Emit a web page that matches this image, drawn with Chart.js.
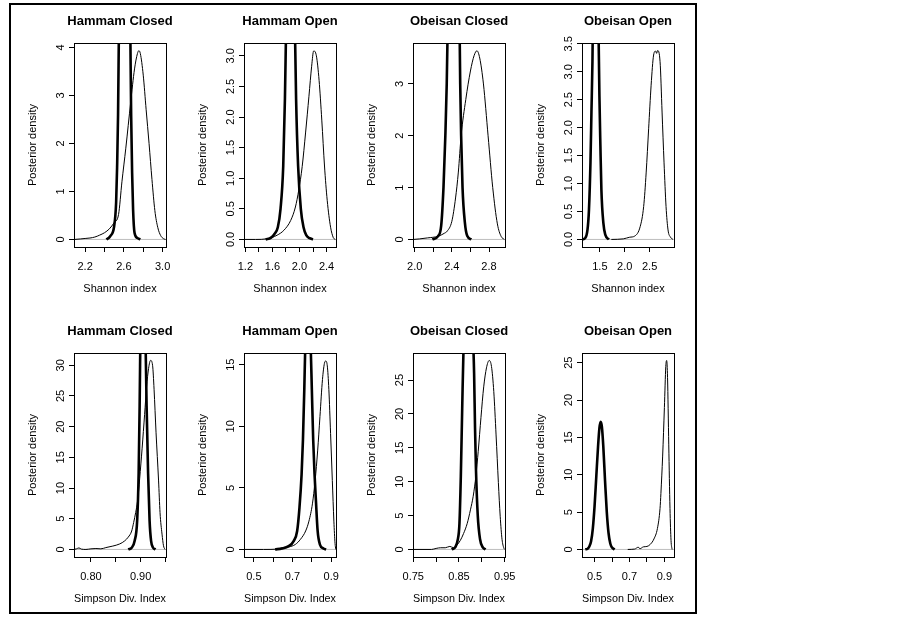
<!DOCTYPE html>
<html>
<head>
<meta charset="utf-8">
<script src="https://cdn.jsdelivr.net/npm/chart.js@4.4.1/dist/chart.umd.min.js"></script>
<style>
html,body{margin:0;padding:0;background:#fff;}
#page{position:relative;width:902px;height:620px;overflow:hidden;background:#fff;}
#frame{position:absolute;left:9px;top:3px;width:688px;height:611px;border:2px solid #000;box-sizing:border-box;}
.panel{position:absolute;width:208px;height:287px;}
.panel canvas{display:block;}
</style>
</head>
<body>
<div id="page"><div id="frame"></div></div>
<script>
// ---------- text ----------
const panelTitles = ["Hammam Closed", "Hammam Open", "Obeisan Closed", "Obeisan Open"];
const yAxisTitle = "Posterior density";
const xAxisTitles = ["Shannon index", "Simpson Div. Index"];

// ---------- axis ranges ----------
const shannonXMin = [2.085, 1.18, 1.982, 1.14];
const shannonXMax = [3.035, 2.54, 2.972, 2.99];
const shannonYMax = [4.09, 3.21, 3.79, 3.515];
const simpsonXMin = [0.766, 0.449, 0.7495, 0.428];
const simpsonXMax = [0.951, 0.925, 0.9505, 0.955];
const simpsonYMax = [32.0, 15.95, 29.0, 26.3];

// ---------- ticks ----------
const shannonXTicks = [[2.2,2.4,2.6,2.8,3.0],[1.2,1.4,1.6,1.8,2.0,2.2,2.4],[2.0,2.2,2.4,2.6,2.8],[1.5,2.0,2.5]];
const shannonXTickLabels = [["2.2","","2.6","","3.0"],["1.2","","1.6","","2.0","","2.4"],["2.0","","2.4","","2.8"],["1.5","2.0","2.5"]];
const shannonYTicks = [[0,1,2,3,4],[0,0.5,1,1.5,2,2.5,3],[0,1,2,3],[0,0.5,1,1.5,2,2.5,3,3.5]];
const shannonYTickLabels = [["0","1","2","3","4"],["0.0","0.5","1.0","1.5","2.0","2.5","3.0"],["0","1","2","3"],["0.0","0.5","1.0","1.5","2.0","2.5","3.0","3.5"]];
const simpsonXTicks = [[0.80,0.85,0.90,0.95],[0.5,0.6,0.7,0.8,0.9],[0.75,0.80,0.85,0.90,0.95],[0.5,0.6,0.7,0.8,0.9]];
const simpsonXTickLabels = [["0.80","","0.90",""],["0.5","","0.7","","0.9"],["0.75","","0.85","","0.95"],["0.5","","0.7","","0.9"]];
const simpsonYTicks = [[0,5,10,15,20,25,30],[0,5,10,15],[0,5,10,15,20,25],[0,5,10,15,20,25]];
const simpsonYTickLabels = [["0","5","10","15","20","25","30"],["0","5","10","15"],["0","5","10","15","20","25"],["0","5","10","15","20","25"]];

// ---------- Shannon index densities ----------
const hcShThinX = [2.09,2.15,2.20,2.25,2.30,2.35,2.40,2.45,2.50,2.545,2.58,2.62,2.67,2.71,2.74,2.755,2.77,2.80,2.83,2.86,2.89,2.92,2.95,2.98,3.01,3.03];
const hcShThinY = [0,0.01,0.02,0.03,0.05,0.09,0.14,0.22,0.35,0.52,1.2,1.9,2.85,3.55,3.87,3.93,3.87,3.42,2.7,2.0,1.25,0.6,0.25,0.08,0.015,0];
const hcShThickX = [2.42,2.46,2.50,2.52,2.53,2.54,2.55,2.57,2.61,2.645,2.665,2.675,2.685,2.695,2.71,2.74,2.77];
const hcShThickY = [0,0.07,0.28,0.77,1.5,2.6,4.6,7.0,8.2,7.0,4.6,2.6,1.4,0.63,0.14,0.03,0];

const hoShThinX = [1.18,1.35,1.52,1.67,1.77,1.87,1.94,1.99,2.04,2.09,2.14,2.18,2.21,2.25,2.29,2.33,2.37,2.41,2.46,2.50,2.53];
const hoShThinY = [0,0,0.01,0.07,0.15,0.31,0.53,0.81,1.19,1.74,2.34,2.83,3.08,3.0,2.6,1.95,1.2,0.64,0.2,0.03,0];
const hoShThickX = [1.50,1.58,1.63,1.68,1.72,1.76,1.785,1.80,1.82,1.86,1.89,1.92,1.935,1.95,1.98,2.02,2.06,2.10,2.15,2.20];
const hoShThickY = [0,0.03,0.09,0.2,0.5,1.2,2.3,3.3,4.6,5.8,5.8,4.6,3.3,2.3,1.2,0.5,0.2,0.07,0.02,0];

const ocShThinX = [1.985,2.05,2.14,2.25,2.32,2.35,2.40,2.44,2.47,2.50,2.55,2.60,2.64,2.67,2.70,2.74,2.79,2.84,2.89,2.93,2.965];
const ocShThinY = [0,0.01,0.03,0.06,0.12,0.16,0.35,0.8,1.3,2.0,2.7,3.25,3.55,3.64,3.5,3.0,2.0,1.0,0.3,0.06,0];
const ocShThickX = [2.19,2.25,2.285,2.31,2.33,2.345,2.36,2.39,2.42,2.455,2.48,2.49,2.50,2.515,2.54,2.565,2.61];
const ocShThickY = [0,0.06,0.26,1.0,2.0,3.0,4.6,6.8,7.4,6.8,4.6,3.0,2.0,1.0,0.33,0.07,0];

const ooShThinX = [1.73,1.97,2.10,2.20,2.31,2.38,2.43,2.48,2.53,2.58,2.62,2.64,2.66,2.71,2.75,2.79,2.83,2.87,2.92,2.97];
const ooShThinY = [0,0.01,0.04,0.06,0.23,0.59,1.19,1.98,2.76,3.30,3.37,3.33,3.38,3.18,2.28,1.37,0.59,0.17,0.04,0];
const ooShThickX = [1.15,1.20,1.25,1.28,1.31,1.33,1.35,1.37,1.41,1.45,1.47,1.49,1.51,1.53,1.57,1.61,1.68];
const ooShThickY = [0,0.02,0.17,0.53,1.37,2.28,3.18,4.8,6.2,5.0,3.9,2.58,1.67,0.89,0.29,0.08,0];

// ---------- Simpson diversity index densities ----------
const hcSiThinX = [0.766,0.771,0.776,0.781,0.79,0.80,0.81,0.82,0.83,0.844,0.858,0.868,0.875,0.882,0.886,0.890,0.894,0.898,0.903,0.908,0.912,0.916,0.920,0.924,0.927,0.931,0.936,0.939,0.943,0.946,0.949];
const hcSiThinY = [0,0.1,0.25,0.05,0,0.1,0.15,0.1,0.3,0.55,0.9,1.4,2.0,3.0,4.4,6.0,8.0,11.5,16.5,22.0,26.5,29.5,30.8,30.0,26.1,19.0,11.3,6.0,2.5,0.6,0];
const hcSiThickX = [0.875,0.882,0.888,0.893,0.896,0.898,0.900,0.905,0.909,0.912,0.915,0.918,0.921,0.925,0.93];
const hcSiThickY = [0,0.28,1.4,4.7,12.4,23.4,38,52,38,23.4,12.4,4.7,1.4,0.28,0];

const hoSiThinX = [0.45,0.55,0.627,0.645,0.68,0.715,0.741,0.768,0.785,0.803,0.817,0.83,0.842,0.855,0.865,0.872,0.88,0.888,0.897,0.906,0.914,0.92,0.924];
const hoSiThinY = [0,0,0.03,0.14,0.2,0.41,0.82,1.5,2.3,3.7,5.6,8.0,10.8,13.8,15.1,15.3,14.9,13.0,9.4,5.6,2.3,0.5,0];
const hoSiThickX = [0.61,0.645,0.68,0.706,0.724,0.736,0.747,0.754,0.761,0.766,0.78,0.794,0.80,0.807,0.814,0.821,0.83,0.842,0.86,0.874];
const hoSiThickY = [0,0.08,0.27,0.68,1.5,3.4,6.1,8.9,13,16.5,22,16.5,13,8.9,6.1,4.0,1.5,0.4,0.08,0];

const ocSiThinX = [0.751,0.79,0.80,0.81,0.82,0.83,0.838,0.845,0.853,0.86,0.868,0.875,0.881,0.887,0.892,0.898,0.904,0.91,0.916,0.921,0.926,0.931,0.936,0.94,0.944,0.948,0.95];
const ocSiThinY = [0,0,0.15,0.25,0.25,0.45,0.25,0.6,1.35,2.35,3.85,5.85,7.85,10.9,14.5,19.5,24.0,26.8,27.9,27.0,23.3,16.9,9.9,4.9,1.5,0.2,0];
const ocSiThickX = [0.834,0.842,0.847,0.851,0.854,0.857,0.860,0.870,0.880,0.883,0.885,0.887,0.891,0.896,0.902,0.908];
const ocSiThickY = [0,0.35,1.35,3.85,10.85,20.85,30,40,32,26,18,12,5,1.5,0.3,0];

const ooSiThinX = [0.69,0.73,0.75,0.76,0.78,0.80,0.82,0.84,0.86,0.875,0.88,0.89,0.90,0.908,0.913,0.918,0.925,0.932,0.938,0.944];
const ooSiThinY = [0,0.05,0.3,0.1,0.35,0.4,0.7,1.4,2.8,5.5,7.5,12.5,19.0,24.5,25.3,23.0,14.0,5.5,1.2,0];
const ooSiThickX = [0.447,0.46,0.47,0.48,0.49,0.50,0.51,0.52,0.528,0.535,0.542,0.55,0.56,0.57,0.58,0.59,0.60,0.615];
const ooSiThickY = [0,0.1,0.4,1.1,2.8,5.8,9.8,13.8,16.3,17.1,16.4,13.8,9.2,5.0,2.2,0.8,0.25,0];

// ---------- assemble ----------
const shannonCurves = [
  [hcShThinX, hcShThinY, hcShThickX, hcShThickY],
  [hoShThinX, hoShThinY, hoShThickX, hoShThickY],
  [ocShThinX, ocShThinY, ocShThickX, ocShThickY],
  [ooShThinX, ooShThinY, ooShThickX, ooShThickY]
];
const simpsonCurves = [
  [hcSiThinX, hcSiThinY, hcSiThickX, hcSiThickY],
  [hoSiThinX, hoSiThinY, hoSiThickX, hoSiThickY],
  [ocSiThinX, ocSiThinY, ocSiThickX, ocSiThickY],
  [ooSiThinX, ooSiThinY, ooSiThickX, ooSiThickY]
];

const FONT_FAMILY = '"Liberation Sans", Arial, Helvetica, sans-serif';
Chart.defaults.font.family = FONT_FAMILY;
Chart.defaults.color = '#000';

const measureCtx = document.createElement('canvas').getContext('2d');
measureCtx.font = '11px ' + FONT_FAMILY;
function widestLabel(labels) {
  return Math.max.apply(null, labels.map(function (l) { return measureCtx.measureText(l).width; }));
}
function pts(xs, ys) { return xs.map(function (x, i) { return { x: x, y: ys[i] }; }); }

const boxPlugin = {
  id: 'rbox',
  afterDraw: function (chart) {
    const a = chart.chartArea, c = chart.ctx;
    c.save();
    c.strokeStyle = '#000';
    c.lineWidth = 1;
    c.strokeRect(Math.round(a.left) + 0.5, Math.round(a.top) + 0.5,
                 Math.round(a.right - a.left), Math.round(a.bottom - a.top));
    c.restore();
  }
};

const page = document.getElementById('page');
const boxLefts = [74, 244, 413, 582];
const rowTops = [10, 320];

function makePanel(col, row) {
  const isShannon = row === 0;
  const curves = (isShannon ? shannonCurves : simpsonCurves)[col];
  const xMin = (isShannon ? shannonXMin : simpsonXMin)[col];
  const xMax = (isShannon ? shannonXMax : simpsonXMax)[col];
  const yMax = (isShannon ? shannonYMax : simpsonYMax)[col];
  const yMin = -yMax * 0.04 / 1.04;
  const xTicks = (isShannon ? shannonXTicks : simpsonXTicks)[col];
  const xTickLabels = (isShannon ? shannonXTickLabels : simpsonXTickLabels)[col];
  const yTicks = (isShannon ? shannonYTicks : simpsonYTicks)[col];
  const yTickLabels = (isShannon ? shannonYTickLabels : simpsonYTickLabels)[col];

  const div = document.createElement('div');
  div.className = 'panel';
  div.style.left = (boxLefts[col] - 58) + 'px';
  div.style.top = rowTops[row] + 'px';
  const canvas = document.createElement('canvas');
  canvas.width = 208; canvas.height = 287;
  canvas.style.width = '208px'; canvas.style.height = '287px';
  div.appendChild(canvas);
  page.appendChild(div);

  const yPad = 13.5 - 5 - widestLabel(yTickLabels) / 2;
  const tickFont = { family: FONT_FAMILY, size: 11 };

  new Chart(canvas, {
    type: 'line',
    data: {
      datasets: [
        { data: pts(curves[0], curves[1]), borderColor: '#000', borderWidth: 1, pointRadius: 0, cubicInterpolationMode: 'monotone', clip: 0, fill: false },
        { data: pts(curves[2], curves[3]), borderColor: '#000', borderWidth: 2.6, pointRadius: 0, cubicInterpolationMode: 'monotone', clip: 0, fill: false },
        { data: [{ x: xMin, y: 0 }, { x: xMax, y: 0 }], borderColor: '#bebebe', borderWidth: 1, pointRadius: 0, clip: 0, fill: false }
      ]
    },
    options: {
      responsive: false,
      animation: false,
      devicePixelRatio: 1,
      events: [],
      layout: { padding: 0 },
      plugins: {
        legend: { display: false },
        tooltip: { enabled: false },
        title: {
          display: true,
          text: panelTitles[col],
          color: '#000',
          font: { family: FONT_FAMILY, size: 13, weight: 'bold' },
          padding: { top: 3.9, bottom: 13.5 }
        }
      },
      scales: {
        x: {
          type: 'linear',
          bounds: 'data',
          min: xMin,
          max: xMax,
          afterBuildTicks: function (s) { s.ticks = xTicks.map(function (v) { return { value: v }; }); },
          afterFit: function (s) { s.height = 50; s.paddingLeft = 0; s.paddingRight = 0; },
          ticks: {
            autoSkip: false, minRotation: 0, maxRotation: 0, padding: 7.9, color: '#000', font: tickFont,
            callback: function (v, i) { return xTickLabels[i]; }
          },
          grid: { display: true, drawOnChartArea: false, drawTicks: true, tickLength: 5, color: '#000', lineWidth: 1 },
          border: { display: false },
          title: { display: true, text: xAxisTitles[row], color: '#000', font: tickFont, padding: { top: 0, bottom: 1.9 } }
        },
        y: {
          type: 'linear',
          position: 'left',
          bounds: 'data',
          min: yMin,
          max: yMax,
          afterBuildTicks: function (s) { s.ticks = yTicks.map(function (v) { return { value: v }; }); },
          afterFit: function (s) { s.width = 58; s.paddingTop = 0; s.paddingBottom = 0; },
          ticks: {
            autoSkip: false, minRotation: 90, maxRotation: 90, crossAlign: 'center', padding: yPad, color: '#000', font: tickFont,
            callback: function (v, i) { return yTickLabels[i]; }
          },
          grid: { display: true, drawOnChartArea: false, drawTicks: true, tickLength: 5, color: '#000', lineWidth: 1 },
          border: { display: false },
          title: { display: true, text: yAxisTitle, color: '#000', font: tickFont, padding: { top: 10.1, bottom: 0 } }
        },
        yRightMargin: {
          type: 'linear',
          position: 'right',
          display: true,
          grid: { display: false, drawTicks: false },
          ticks: { display: false },
          border: { display: false },
          afterFit: function (s) { s.width = 58; s.paddingTop = 0; s.paddingBottom = 0; }
        }
      }
    },
    plugins: [boxPlugin]
  });
}

for (let r = 0; r < 2; r++) {
  for (let c = 0; c < 4; c++) makePanel(c, r);
}
</script>
</body>
</html>
